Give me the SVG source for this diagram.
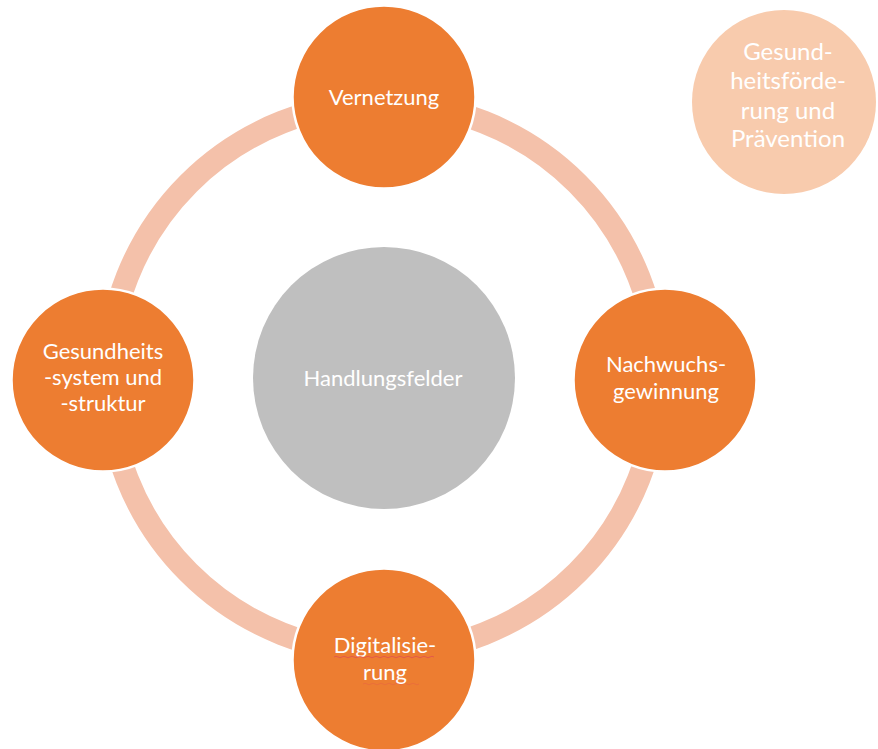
<svg xmlns="http://www.w3.org/2000/svg" width="878" height="749" viewBox="0 0 878 749">
  <style>
    .node { fill: #ED7D31; stroke: #FFFFFF; stroke-width: 2.5; }
    .hub { fill: #BFBFBF; }
    .side { fill: #F8CBAD; }
    .ring { fill: none; stroke: #F4C1AA; stroke-width: 23; }
    .lbl { font-family: Lato, "Open Sans", "Liberation Sans", sans-serif; font-size: 22px; fill: #FFFFFF; text-anchor: middle; }
    .lbl-big { font-size: 24px; }
    .squig { fill: none; stroke: #E05050; stroke-width: 1; opacity: 0.8; }
    .squig-faint { opacity: 0.3; }
  </style>
  <rect x="0" y="0" width="878" height="749" fill="#FFFFFF"/>

  <g id="connectors">
    <circle class="ring" cx="383" cy="378" r="275"/>
  </g>

  <g id="node-handlungsfelder">
    <circle class="hub" cx="384" cy="378" r="131"/>
    <text class="lbl" x="383" y="386">Handlungsfelder</text>
  </g>

  <g id="node-vernetzung">
    <circle class="node" cx="384" cy="97" r="91.5"/>
    <text class="lbl" x="384" y="105">Vernetzung</text>
  </g>

  <g id="node-nachwuchsgewinnung">
    <circle class="node" cx="665" cy="380" r="91.5"/>
    <text class="lbl" x="666" y="372">Nachwuchs-</text>
    <text class="lbl" x="666" y="399">gewinnung</text>
  </g>

  <g id="node-digitalisierung">
    <circle class="node" cx="384" cy="660" r="91.5"/>
    <text class="lbl" x="385" y="653">Digitalisie-</text>
    <text class="lbl" x="385" y="680">rung</text>
    <path class="squig" d="M334 657 q2 -1.5 4 0 t4 0 t4 0 t4 0 t4 0 t4 0 t4 0 t4 0 t4 0 t4 0 t4 0 t4 0 t4 0 t4 0 t4 0 t4 0 t4 0 t4 0 t4 0 t4 0 t4 0 t4 0 t4 0 t4 0 t4 0"/>
    <path class="squig squig-faint" d="M363 684 q2 -1.5 4 0 t4 0 t4 0 t4 0 t4 0 t4 0 t4 0 t4 0 t4 0 t4 0 t4 0 t4 0 t4 0 t4 0"/>
  </g>

  <g id="node-gesundheitssystem">
    <circle class="node" cx="103" cy="380" r="91.5"/>
    <text class="lbl" x="103" y="359">Gesundheits</text>
    <text class="lbl" x="103" y="385">-system und</text>
    <text class="lbl" x="103" y="411">-struktur</text>
  </g>

  <g id="node-gesundheitsfoerderung">
    <circle class="side" cx="784" cy="102" r="92"/>
    <text class="lbl lbl-big" x="788" y="60">Gesund-</text>
    <text class="lbl lbl-big" x="788" y="89">heitsförde-</text>
    <text class="lbl lbl-big" x="788" y="119">rung und</text>
    <text class="lbl lbl-big" x="788" y="147">Prävention</text>
  </g>
</svg>
